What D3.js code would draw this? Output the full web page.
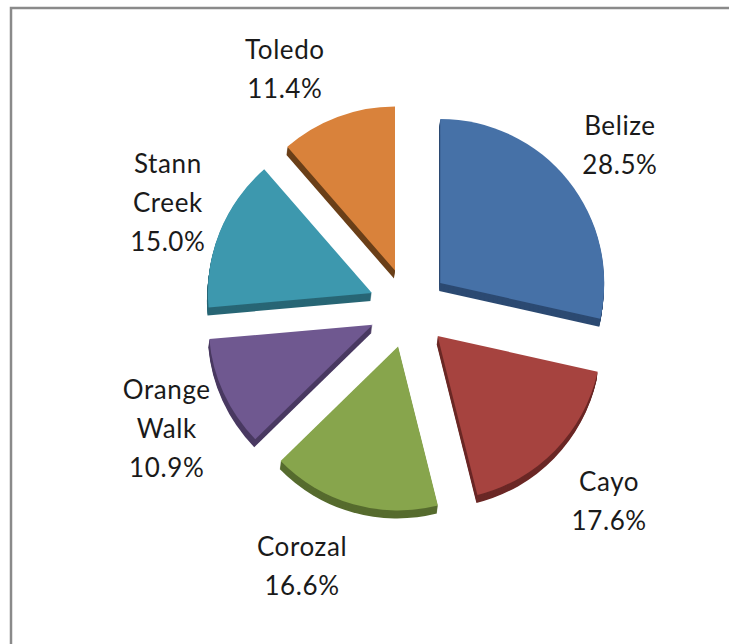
<!DOCTYPE html>
<html>
<head>
<meta charset="utf-8">
<script src="https://cdn.jsdelivr.net/npm/d3@7"></script>
<style>
  body { margin: 0; background: #fff; }
  svg { display: block; }
</style>
</head>
<body>
<svg width="729" height="644"></svg>
<script>
// share of population by district
var districts = ["Belize", "Cayo", "Corozal", "Orange Walk", "Stann Creek", "Toledo"];
var shares = [28.5, 17.6, 16.6, 10.9, 15.0, 11.4];

var faceColors = ["#4671a7", "#a6433f", "#87a54c", "#6f5890", "#3d98ae", "#d9823b"];
var sideColors = ["#2c4a72", "#6b2826", "#566b2e", "#4a3a62", "#286675", "#6a3f18"];

// label nudges (px) from the default spot on the bisector
var labelNudge = [[8, 0], [14, 12], [-36, 8], [-6, 13], [0, -8], [-33, 5]];

var svg = d3.select("svg"),
    cx = 409, cy = 308,
    radius = 164,
    explode = 40,
    depth = 8,
    labelR = 260,
    lineH = 39;

var data = districts.map(function(d, i) { return {name: d, value: shares[i], i: i}; });

// chart frame
svg.append("rect")
    .attr("x", 11).attr("y", 8)
    .attr("width", 760).attr("height", 700)
    .attr("fill", "none")
    .attr("stroke", "#8a8a8a")
    .attr("stroke-width", 2.5);

var pie = d3.pie().sort(null).value(function(d) { return d.value; });
var arc = d3.arc().innerRadius(0).outerRadius(radius);
var arcs = pie(data);

var g = svg.append("g").attr("transform", "translate(" + cx + "," + cy + ")");

function bisector(d) {
  var a = (d.startAngle + d.endAngle) / 2;
  return [Math.sin(a), -Math.cos(a)];
}

var slice = g.selectAll("g.slice")
  .data(arcs)
  .enter().append("g")
    .attr("class", "slice")
    .attr("transform", function(d) {
      var u = bisector(d);
      return "translate(" + (u[0] * explode) + "," + (u[1] * explode) + ")";
    });

// side walls: stack of shifted copies
slice.each(function(d) {
  var s = d3.select(this);
  for (var k = depth; k >= 1; k--) {
    s.append("path")
      .attr("d", arc(d))
      .attr("transform", "translate(" + (-k / depth) + "," + k + ")")
      .attr("fill", sideColors[d.data.i]);
  }
});

// top faces
slice.append("path")
    .attr("d", arc)
    .attr("fill", function(d) { return faceColors[d.data.i]; });

// labels
var fmt = d3.format(".1f");
var labels = g.selectAll("text.lbl")
  .data(arcs)
  .enter().append("text")
    .attr("class", "lbl")
    .attr("text-anchor", "middle")
    .attr("font-family", "Lato, 'Noto Sans', sans-serif")
    .attr("font-size", 26)
    .attr("letter-spacing", 0.6)
    .attr("fill", "#1a1a1a");

labels.each(function(d) {
  var lines = d.data.name.split(" ").concat([fmt(d.data.value) + "%"]);
  var u = bisector(d);
  var n = lines.length;
  var x = u[0] * labelR + labelNudge[d.data.i][0];
  var yc = u[1] * labelR + labelNudge[d.data.i][1];
  var y0 = yc - ((n - 1) * lineH - 18) / 2;
  var t = d3.select(this);
  lines.forEach(function(l, j) {
    t.append("tspan")
      .attr("x", x)
      .attr("y", y0 + j * lineH)
      .text(l);
  });
});
</script>
</body>
</html>
